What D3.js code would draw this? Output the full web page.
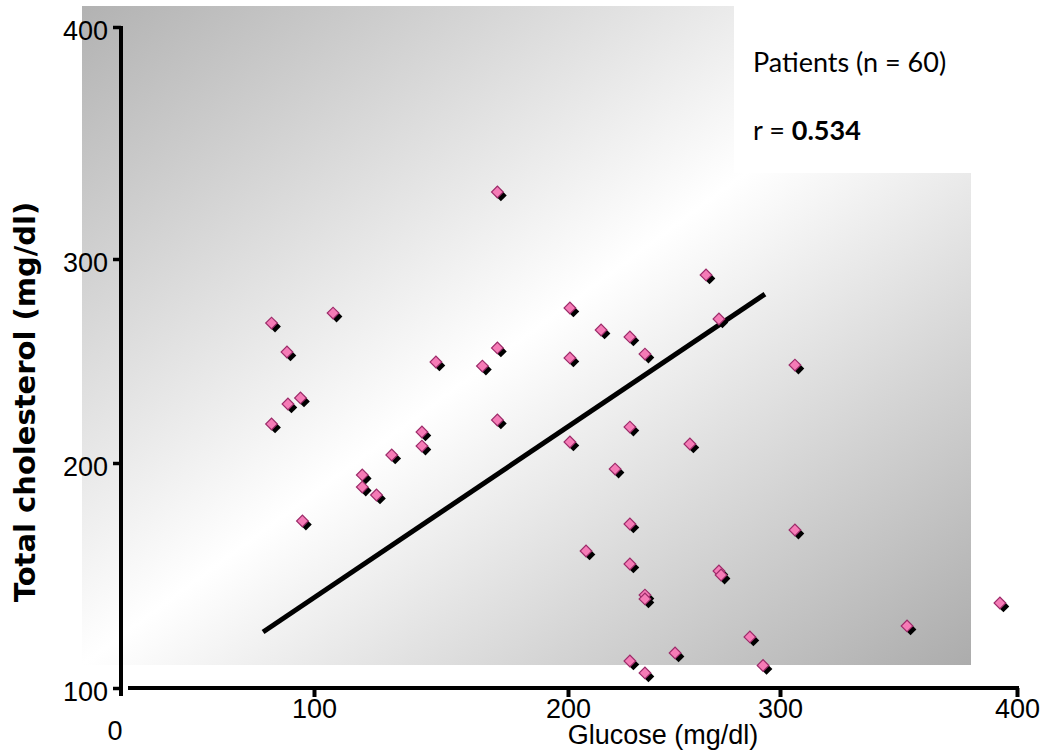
<!DOCTYPE html>
<html>
<head>
<meta charset="utf-8">
<script src="https://cdn.jsdelivr.net/npm/d3@7"></script>
<style>
  body { margin: 0; background: #fff; }
  svg { display: block; }
</style>
</head>
<body>
<svg id="chart"></svg>
<script>
// glucose (x) and total cholesterol (y)
const glucose = [78, 78, 86, 86.5, 93, 94, 107.5, 119, 119, 124.6, 130.6, 142.5, 142.5, 148,
  166.3, 172.2, 172.2, 172.2, 200.9, 200.9, 200.9, 208.5, 215.6, 222.2, 229.2, 229.2, 229.2,
  229.2, 229.2, 236.3, 236.3, 236.3, 236.3, 250.5, 257.5, 265.1, 271.2, 271.2, 272.2, 285.8,
  292, 306.3, 306.3, 353.6, 392.8];
const cholesterol = [268.6, 219.1, 254.4, 228.9, 231.9, 174.2, 273.5, 194.7, 189.3, 185.8,
  203.9, 215.2, 208.3, 249.5, 247.5, 328.9, 256.4, 221.1, 276, 251.5, 210.3, 160.9, 265.2,
  197.3, 261.8, 217.6, 172.9, 155.1, 112, 253.4, 141.3, 139.6, 106.7, 115.6, 209.3, 292.2,
  270.6, 152, 150.2, 122.7, 110, 248, 170.2, 127.6, 137.8];

// regression line ends
const fitX = [73.6, 292.9];
const fitY = [124.9, 282.8];

const xTicks = [100, 200, 300, 400];
const yTicks = [100, 200, 300, 400];

const W = 1042, H = 751;
const svg = d3.select('#chart').attr('width', W).attr('height', H);

// the printed axis is not evenly spaced, so the scales are piecewise
const x = d3.scaleLinear()
  .domain([0, 100, 200, 300, 400])
  .range([121, 314, 568, 780, 1017]);
const y = d3.scaleLinear()
  .domain([100, 200, 300, 400])
  .range([688, 463, 259, 27]);

// background gradient
const defs = svg.append('defs');
const grad = defs.append('linearGradient')
  .attr('id', 'bg')
  .attr('x1', 0).attr('y1', 0).attr('x2', 1).attr('y2', 1);
grad.append('stop').attr('offset', 0).attr('stop-color', '#b2b2b2');
grad.append('stop').attr('offset', 0.5).attr('stop-color', '#ffffff');
grad.append('stop').attr('offset', 1).attr('stop-color', '#acacac');

svg.append('rect')
  .attr('x', 82).attr('y', 6)
  .attr('width', 889).attr('height', 659)
  .attr('fill', 'url(#bg)');

// white box behind the legend text
svg.append('rect')
  .attr('x', 734).attr('y', 0)
  .attr('width', 308).attr('height', 173)
  .attr('fill', '#fff');

// regression line
const line = d3.line().x(d => x(d[0])).y(d => y(d[1]));
svg.append('path')
  .attr('d', line(d3.zip(fitX, fitY)))
  .attr('stroke', '#000')
  .attr('stroke-width', 5)
  .attr('fill', 'none');

// points: black shadow + pink diamond
const pts = d3.zip(glucose, cholesterol);
const diamond = d3.symbol(d3.symbolSquare, 68)();

svg.append('g').selectAll('path')
  .data(pts)
  .enter()
  .append('path')
  .attr('d', diamond)
  .attr('transform', d => `translate(${x(d[0]) + 3.5},${y(d[1]) + 3.5}) rotate(45)`)
  .attr('fill', '#000');

svg.append('g').selectAll('path')
  .data(pts)
  .enter()
  .append('path')
  .attr('d', diamond)
  .attr('transform', d => `translate(${x(d[0])},${y(d[1])}) rotate(45)`)
  .attr('fill', '#f57bb6')
  .attr('stroke', '#9c2b69')
  .attr('stroke-width', 1.2);

const tickFont = '"Liberation Sans", Arial, sans-serif';

// y axis
const yAxis = d3.axisLeft(y).tickValues(yTicks).tickSize(8).tickSizeOuter(0).tickPadding(5);
const gy = svg.append('g')
  .attr('transform', 'translate(121,0)')
  .call(yAxis);
gy.select('.domain').remove();
gy.selectAll('.tick line').attr('stroke', '#000').attr('stroke-width', 3.5);
gy.selectAll('.tick text')
  .attr('font-family', tickFont)
  .attr('font-size', '27px')
  .attr('fill', '#000')
  .attr('dy', '0.45em');
gy.append('line')
  .attr('x1', 0).attr('x2', 0)
  .attr('y1', y(400) - 1).attr('y2', y(100) + 8)
  .attr('stroke', '#000').attr('stroke-width', 4);

// x axis
const xAxis = d3.axisBottom(x).tickValues(xTicks).tickSize(9).tickSizeOuter(0).tickPadding(2);
const gx = svg.append('g')
  .attr('transform', `translate(0,${y(100)})`)
  .call(xAxis);
gx.select('.domain').remove();
gx.selectAll('.tick line').attr('stroke', '#000').attr('stroke-width', 4);
gx.selectAll('.tick text')
  .attr('font-family', tickFont)
  .attr('font-size', '27px')
  .attr('fill', '#000');
gx.append('line')
  .attr('x1', x(0) + 7).attr('x2', x(400) + 2)
  .attr('y1', 0).attr('y2', 0)
  .attr('stroke', '#000').attr('stroke-width', 4);

// lone zero under the origin
svg.append('text')
  .attr('x', x(0) - 6).attr('y', 740)
  .attr('text-anchor', 'middle')
  .attr('font-family', tickFont)
  .attr('font-size', '27px')
  .text('0');

// axis titles
svg.append('text')
  .attr('x', 663).attr('y', 744)
  .attr('text-anchor', 'middle')
  .attr('font-family', tickFont)
  .attr('font-size', '27px')
  .text('Glucose (mg/dl)');

svg.append('text')
  .attr('transform', 'translate(35,402) rotate(-90)')
  .attr('text-anchor', 'middle')
  .attr('font-family', '"DejaVu Sans", sans-serif')
  .attr('font-weight', 'bold')
  .attr('font-size', '29px')
  .text('Total cholesterol (mg/dl)');

// legend text
const legFont = 'Lato, "Open Sans", sans-serif';
svg.append('text')
  .attr('x', 753).attr('y', 72)
  .attr('font-family', legFont)
  .attr('font-size', '27px')
  .text('Patients (n = 60)');

const r = svg.append('text')
  .attr('x', 753).attr('y', 140)
  .attr('font-family', legFont)
  .attr('font-size', '27px');
r.append('tspan').text('r = ');
r.append('tspan').attr('font-weight', 'bold').text('0.534');
</script>
</body>
</html>
